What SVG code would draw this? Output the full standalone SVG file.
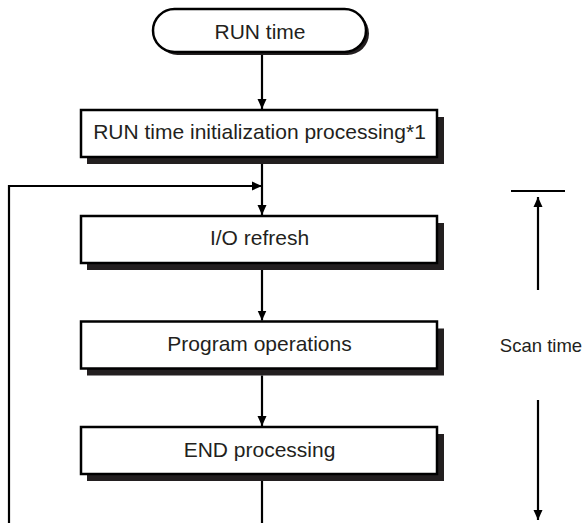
<svg xmlns="http://www.w3.org/2000/svg" width="586" height="523" viewBox="0 0 586 523">
<style>
.shadow{fill:#231f20}
.box{fill:#fff;stroke:#000;stroke-width:2.5}
.lbl{font-family:"Liberation Sans",Arial,sans-serif;font-size:21px;fill:#231f20;text-anchor:middle}
.ln{fill:none;stroke:#000;stroke-width:2.2}
</style>
<defs>
<marker id="ah" markerWidth="10" markerHeight="10" refX="10" refY="5" orient="auto" markerUnits="userSpaceOnUse">
<path d="M0,0.5 L10,5 L0,9.5 Z" fill="#000"/>
</marker>
</defs>
<rect width="586" height="523" fill="#fff"/>
<g id="node-start">
<rect class="shadow" x="156" y="12" width="213" height="43" rx="21.5"/>
<rect class="box" x="153" y="9" width="213" height="43" rx="21.5"/>
<text class="lbl" x="260" y="39">RUN time</text>
</g>
<g id="node-init">
<rect class="shadow" x="87" y="117" width="357" height="47"/>
<rect class="box" x="81" y="110" width="356" height="47"/>
<text class="lbl" x="259.5" y="139">RUN time initialization processing*1</text>
</g>
<g id="node-io">
<rect class="shadow" x="87" y="223" width="357" height="47"/>
<rect class="box" x="81" y="216" width="356" height="47"/>
<text class="lbl" x="259.5" y="245">I/O refresh</text>
</g>
<g id="node-prog">
<rect class="shadow" x="87" y="328.5" width="357" height="47"/>
<rect class="box" x="81" y="321.5" width="356" height="47"/>
<text class="lbl" x="259.5" y="351">Program operations</text>
</g>
<g id="node-end">
<rect class="shadow" x="87" y="434" width="357" height="47"/>
<rect class="box" x="81" y="427" width="356" height="47"/>
<text class="lbl" x="259.5" y="457">END processing</text>
</g>
<g id="connectors">
<line class="ln" x1="262" y1="55" x2="262" y2="109" marker-end="url(#ah)"/>
<line class="ln" x1="262" y1="164" x2="262" y2="215" marker-end="url(#ah)"/>
<polyline class="ln" points="9,523 9,186 262,186" marker-end="url(#ah)"/>
<line class="ln" x1="262" y1="270" x2="262" y2="320.5" marker-end="url(#ah)"/>
<line class="ln" x1="262" y1="375.5" x2="262" y2="426" marker-end="url(#ah)"/>
<line class="ln" x1="262" y1="481" x2="262" y2="523"/>
</g>
<g id="scan-time">
<line class="ln" x1="511" y1="191" x2="565" y2="191" stroke-width="2.5"/>
<line class="ln" x1="538" y1="290" x2="538" y2="197" marker-end="url(#ah)"/>
<line class="ln" x1="538" y1="400" x2="538" y2="520" marker-end="url(#ah)"/>
<text class="lbl" x="541" y="352" style="font-size:18.5px">Scan time</text>
</g>
</svg>
